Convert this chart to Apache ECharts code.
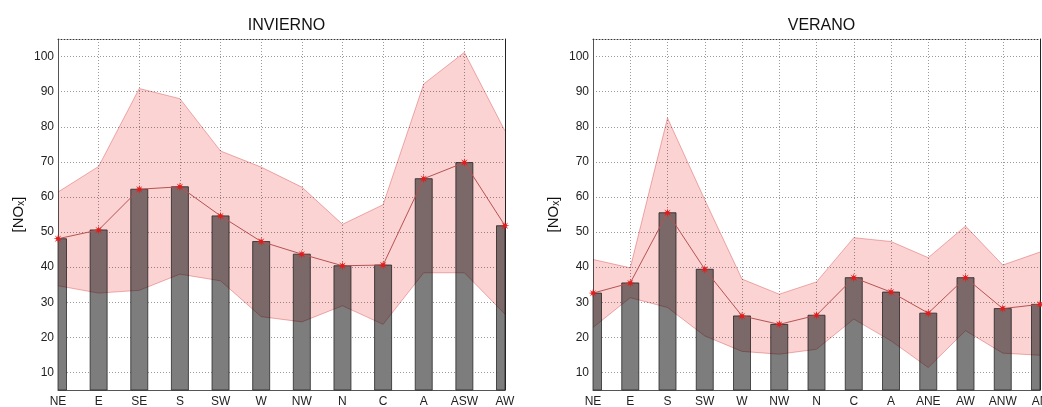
<!DOCTYPE html>
<html>
<head>
<meta charset="utf-8">
<script src="https://cdn.jsdelivr.net/npm/echarts@6/dist/echarts.min.js"></script>
<style>
html,body{margin:0;padding:0;background:#fff;}
#c{width:1042px;height:407px;}
</style>
</head>
<body>
<div id="c"></div>
<script>
// ---- data ----
const catInv = ['NE','E','SE','S','SW','W','NW','N','C','A','ASW','AW'];
const meanInv = [48.1, 50.6, 62.2, 62.9, 54.6, 47.3, 43.7, 40.4, 40.6, 65.2, 69.8, 51.8];
const upperInv = [61.4, 68.7, 90.9, 88.0, 73.1, 68.5, 62.8, 52.2, 57.8, 92.2, 101.2, 78.8];
const lowerInv = [34.7, 32.6, 33.4, 38.0, 36.1, 25.9, 24.4, 29.0, 23.7, 38.4, 38.4, 26.6];

const catVer = ['NE','E','S','SW','W','NW','N','C','A','ANE','AW','ANW','AN'];
const meanVer = [32.6, 35.5, 55.5, 39.4, 26.1, 23.7, 26.3, 37.0, 32.9, 26.9, 37.0, 28.2, 29.4];
const upperVer = [42.2, 39.8, 82.5, 59.2, 36.6, 32.3, 35.8, 48.4, 47.3, 42.7, 51.7, 40.6, 44.3];
const lowerVer = [22.8, 31.3, 28.5, 20.4, 16.0, 15.2, 16.6, 25.2, 19.0, 11.4, 21.9, 15.5, 14.9];

const yTicks = [10, 20, 30, 40, 50, 60, 70, 80, 90, 100];
const titles = ['INVIERNO', 'VERANO'];

// ---- chart ----
const STAR = 'path://M50 0 L56.9 33.4 L85.4 14.6 L66.6 43.1 L100 50 L66.6 56.9 L85.4 85.4 L56.9 66.6 L50 100 L43.1 66.6 L14.6 85.4 L33.4 56.9 L0 50 L33.4 43.1 L14.6 14.6 L43.1 33.4 Z';
const FONT = 'Liberation Sans, Arial, sans-serif';
const Y_MIN = 5, Y_MAX = 105, BAR_W = 17;

const panels = [
  {cats: catInv, mean: meanInv, up: upperInv, lo: lowerInv, left: 58, right: 537, cx: 281.5},
  {cats: catVer, mean: meanVer, up: upperVer, lo: lowerVer, left: 593, right: 2, cx: 816.5}
];

function renderBar(params, api) {
  const k = api.value(0), v = api.value(1);
  const top = api.coord([k, v]);
  const base = api.coord([k, Y_MIN]);
  const cs = params.coordSys;
  const rect = {x: top[0] - BAR_W / 2, y: top[1], width: BAR_W, height: base[1] - top[1]};
  const clipped = echarts.graphic.clipRectByRect(rect, {x: cs.x, y: cs.y, width: cs.width, height: cs.height});
  if (!clipped) return null;
  return {
    type: 'rect', shape: clipped,
    style: {fill: '#7d7d7d', stroke: '#2a2a2a', lineWidth: 0.8}
  };
}

const option = {
  backgroundColor: '#ffffff',
  animation: false,
  title: [], grid: [], xAxis: [], yAxis: [], series: []
};

panels.forEach((p, i) => {
  option.title.push({
    text: titles[i], left: p.cx, top: 13, textAlign: 'center',
    textStyle: {fontFamily: FONT, fontSize: 16, fontWeight: 'normal', color: '#111'}
  });
  option.grid.push({left: p.left, right: p.right, top: 39, bottom: 17, containLabel: false, outerBoundsMode: 'none'});
  // bottom x axis
  option.xAxis.push({
    type: 'category', gridIndex: i, data: p.cats, boundaryGap: false,
    axisLine: {show: true, lineStyle: {color: '#555', width: 1}},
    axisTick: {show: false},
    axisLabel: {interval: 0, margin: 6, fontFamily: FONT, fontSize: 12, color: '#222'},
    splitLine: {show: true, lineStyle: {color: '#9a9a9a', type: [1, 2], width: 1}}
  });
  // top frame
  option.xAxis.push({
    type: 'category', gridIndex: i, data: p.cats, boundaryGap: false, position: 'top',
    axisLine: {show: true, lineStyle: {color: '#333', type: [1, 2], width: 1}},
    axisTick: {show: false}, axisLabel: {show: false}, splitLine: {show: false}
  });
  // left y axis
  option.yAxis.push({
    type: 'value', gridIndex: i, min: Y_MIN, max: Y_MAX,
    name: '[NO{sub|x}]', nameLocation: 'middle', nameGap: 32, nameRotate: 90,
    nameTextStyle: {
      fontFamily: FONT, fontSize: 15, color: '#111',
      rich: {sub: {fontFamily: FONT, fontSize: 10, color: '#111', verticalAlign: 'bottom', lineHeight: 10, padding: [9, 0, 0, 0]}}
    },
    axisLine: {show: true, lineStyle: {color: '#555', width: 1}},
    axisTick: {show: false, customValues: yTicks},
    axisLabel: {customValues: yTicks, margin: 4, fontFamily: FONT, fontSize: 12, color: '#222'},
    splitLine: {show: true, lineStyle: {color: '#9a9a9a', type: [1, 2], width: 1}}
  });
  // right frame
  option.yAxis.push({
    type: 'value', gridIndex: i, min: Y_MIN, max: Y_MAX, position: 'right',
    axisLine: {show: true, lineStyle: {color: '#222', width: 1}},
    axisTick: {show: false}, axisLabel: {show: false}, splitLine: {show: false}
  });

  const xi = i * 2, yi = i * 2;
  option.series.push({
    type: 'custom', coordinateSystem: 'cartesian2d', xAxisIndex: xi, yAxisIndex: yi,
    data: p.mean.map((v, k) => [k, v]), encode: {x: 0, y: 1},
    renderItem: renderBar, z: 2
  });
  option.series.push({
    type: 'line', xAxisIndex: xi, yAxisIndex: yi, data: p.lo, stack: 'band' + i,
    symbol: 'none', lineStyle: {color: '#f0b4b4', width: 1}, blendMode: 'multiply', z: 3
  });
  option.series.push({
    type: 'line', xAxisIndex: xi, yAxisIndex: yi, data: p.up.map((v, k) => v - p.lo[k]), stack: 'band' + i,
    symbol: 'none', lineStyle: {color: '#f0b4b4', width: 1},
    areaStyle: {color: '#fbd3d3', opacity: 1}, blendMode: 'multiply', z: 3
  });
  option.series.push({
    type: 'line', xAxisIndex: xi, yAxisIndex: yi, data: p.mean,
    symbol: STAR, symbolSize: 9, showSymbol: true,
    itemStyle: {color: '#e01c1c'}, lineStyle: {color: '#b85252', width: 1}, z: 4
  });
});

const chart = echarts.init(document.getElementById('c'), null, {renderer: 'canvas'});
chart.setOption(option);
</script>
</body>
</html>
